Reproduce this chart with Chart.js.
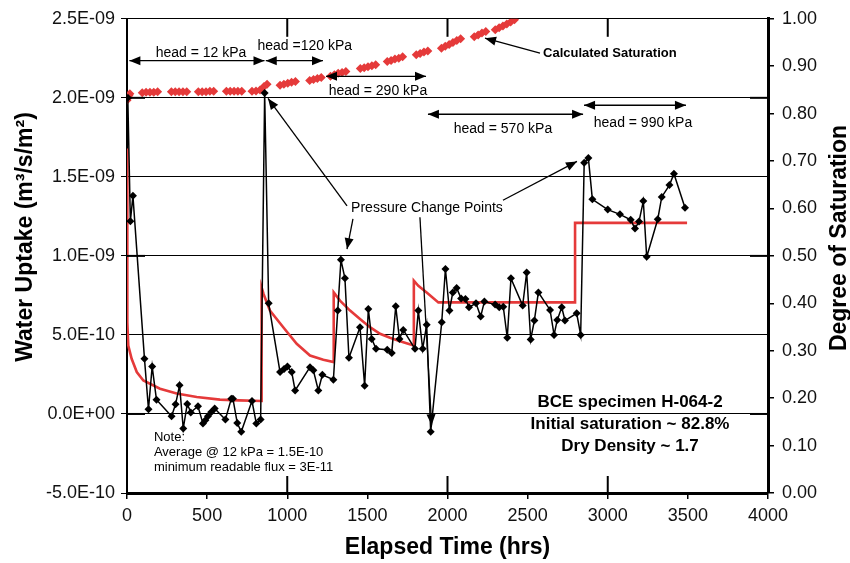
<!DOCTYPE html>
<html>
<head>
<meta charset="utf-8">
<script src="https://cdn.jsdelivr.net/npm/chart.js@4.4.1/dist/chart.umd.min.js"></script>
<style>
  html, body { margin: 0; padding: 0; background: #fff; }
</style>
</head>
<body>
<canvas id="grafico" width="850" height="563"></canvas>
<script>
//inicio - dados

// fluxo medido (m3/s/m2) - serie preta
const tempoFluxo = [5, 21, 37, 109, 134, 157, 184, 278, 303, 328, 351, 376, 398, 443, 474, 489, 505, 526, 547, 614,
    651, 661, 688, 713, 780, 807, 834, 859, 884, 955, 980, 1001, 1028, 1049, 1142, 1163, 1194, 1219, 1288, 1315,
    1335, 1360, 1385, 1454, 1483, 1506, 1527, 1554, 1624, 1652, 1677, 1700, 1724, 1797, 1818, 1845, 1870, 1895, 1964, 1987,
    2012, 2033, 2057, 2085, 2112, 2134, 2178, 2207, 2230, 2297, 2323, 2348, 2373, 2396, 2469, 2494, 2519, 2542, 2567, 2640,
    2665, 2685, 2713, 2733, 2806, 2831, 2853, 2879, 2904, 3000, 3076, 3143, 3170, 3195, 3222, 3243, 3312, 3337, 3385, 3413, 3482];
const fluxo = [2.00e-9, 1.22e-9, 1.38e-9, 3.5e-10, 3.0e-11, 3.0e-10, 9.0e-11, -1.5e-11, 6.1e-11, 1.81e-10, -9.2e-11, 6.3e-11, 1.0e-11, 4.9e-11, -6.1e-11, -4.0e-11, -1.5e-11, 1.3e-11, 3.4e-11, -3.5e-11,
    9.7e-11, 9.7e-11, -5.7e-11, -1.13e-10, 8.2e-11, -6.1e-11, -3.5e-11, 2.03e-9, 7.0e-10, 2.65e-10, 2.85e-10, 3.0e-10, 2.65e-10, 1.49e-10, 2.96e-10, 2.76e-10, 1.49e-10, 2.48e-10, 2.17e-10, 6.54e-10,
    9.75e-10, 8.58e-10, 3.55e-10, 5.49e-10, 1.79e-10, 6.64e-10, 4.75e-10, 4.12e-10, 4.06e-10, 3.85e-10, 6.81e-10, 4.75e-10, 5.32e-10, 4.12e-10, 6.54e-10, 4.12e-10, 5.64e-10, -1.13e-10, 5.80e-10, 9.17e-10,
    6.54e-10, 7.69e-10, 7.97e-10, 7.30e-10, 7.28e-10, 6.75e-10, 7.00e-10, 6.16e-10, 7.11e-10, 6.92e-10, 6.75e-10, 6.79e-10, 4.82e-10, 8.58e-10, 6.86e-10, 8.95e-10, 4.71e-10, 5.91e-10, 7.69e-10, 6.58e-10,
    5.00e-10, 5.95e-10, 6.75e-10, 5.91e-10, 6.37e-10, 5.00e-10, 1.59e-9, 1.62e-9, 1.358e-9, 1.293e-9, 1.263e-9, 1.228e-9, 1.173e-9, 1.217e-9, 1.347e-9, 9.94e-10, 1.232e-9, 1.373e-9, 1.448e-9, 1.52e-9, 1.305e-9];

// modelo (linha vermelha)
const tempoModelo = [0, 0, 4, 8, 29, 61, 102, 206, 310, 435, 580, 700, 840, 840, 852, 892, 975, 1059, 1142, 1225, 1290, 1290,
    1329, 1392, 1454, 1516, 1579, 1641, 1704, 1790, 1790, 1818, 1870, 1943, 2796, 2796, 3495];
const fluxoModelo = [1.68e-9, 5.8e-10, 5.8e-10, 4.33e-10, 3.49e-10, 2.65e-10, 2.12e-10, 1.6e-10, 1.29e-10, 1.07e-10, 9.1e-11, 8.6e-11, 8.2e-11, 8.0e-10, 7.59e-10, 6.54e-10, 5.49e-10, 4.44e-10, 3.7e-10, 3.43e-10, 3.28e-10, 7.69e-10,
    7.17e-10, 6.54e-10, 6.01e-10, 5.49e-10, 5.07e-10, 4.82e-10, 4.6e-10, 4.33e-10, 8.43e-10, 8.11e-10, 7.69e-10, 7.06e-10, 7.06e-10, 1.209e-9, 1.209e-9];

// saturacao calculada (eixo da direita)
const tempoSat = [0, 6, 12, 18, 95, 119, 143, 167, 191, 277, 301, 325, 349, 373, 445, 469, 493, 517, 541,
    620, 644, 668, 692, 716, 780, 805, 830, 855, 874, 955, 979, 1003, 1027, 1051, 1140, 1164, 1188, 1212,
    1270, 1294, 1318, 1342, 1366, 1456, 1480, 1504, 1528, 1552, 1624, 1648, 1672, 1696, 1720, 1805, 1829, 1853, 1877,
    1962, 1986, 2010, 2034, 2058, 2082, 2167, 2191, 2215, 2239, 2298, 2322, 2346, 2370, 2394, 2418];
const saturacao = [0.828, 0.833, 0.838, 0.842, 0.844, 0.845, 0.845, 0.845, 0.846, 0.846, 0.846, 0.846, 0.846, 0.846, 0.846, 0.846, 0.846, 0.847, 0.847,
    0.847, 0.847, 0.847, 0.847, 0.847, 0.847, 0.848, 0.850, 0.857, 0.862, 0.860, 0.862, 0.864, 0.866, 0.868, 0.870, 0.872, 0.874, 0.876,
    0.879, 0.882, 0.885, 0.887, 0.889, 0.895, 0.897, 0.899, 0.901, 0.903, 0.910, 0.912, 0.915, 0.917, 0.920, 0.924, 0.927, 0.930, 0.932,
    0.938, 0.942, 0.946, 0.950, 0.954, 0.958, 0.962, 0.966, 0.970, 0.973, 0.977, 0.981, 0.985, 0.989, 0.993, 0.998];

//fim - dados


//inicio - anotacoes (posicoes em unidades dos eixos: horas, m3/s/m2)

const faixasHead = [
    { texto: 'head = 12 kPa', t: 462, v: 2.283e-9, t1: 15, t2: 858, va: 2.235e-9 },
    { texto: 'head =120 kPa', t: 1109, v: 2.325e-9, t1: 866, t2: 1223, va: 2.235e-9 },
    { texto: 'head = 290 kPa', t: 1566, v: 2.041e-9, t1: 1242, t2: 1866, va: 2.136e-9 },
    { texto: 'head = 570 kPa', t: 2346, v: 1.802e-9, t1: 1878, t2: 2846, va: 1.896e-9 },
    { texto: 'head = 990 kPa', t: 3220, v: 1.840e-9, t1: 2852, t2: 3488, va: 1.953e-9 }
];

const setasPressao = [
    [1373, 1.316e-9, 880, 1.996e-9],
    [1410, 1.234e-9, 1373, 1.043e-9],
    [1828, 1.245e-9, 1901, -0.071e-9],
    [2346, 1.352e-9, 2808, 1.598e-9]
];

//fim - anotacoes


function formatoExp(v) {
    return v.toExponential(1).toUpperCase().replace(/E([+-])(\d)$/, 'E$10$2');
}

function linha(ctx, x1, y1, x2, y2) {
    ctx.beginPath();
    ctx.moveTo(x1, y1);
    ctx.lineTo(x2, y2);
    ctx.stroke();
}

function ponta(ctx, x1, y1, x2, y2) {
    const ang = Math.atan2(y2 - y1, x2 - x1);
    const L = 11, W = 4.5;
    ctx.beginPath();
    ctx.moveTo(x2, y2);
    ctx.lineTo(x2 - L * Math.cos(ang) + W * Math.sin(ang), y2 - L * Math.sin(ang) - W * Math.cos(ang));
    ctx.lineTo(x2 - L * Math.cos(ang) - W * Math.sin(ang), y2 - L * Math.sin(ang) + W * Math.cos(ang));
    ctx.closePath();
    ctx.fill();
}

function seta(ctx, x1, y1, x2, y2, dupla) {
    linha(ctx, x1, y1, x2, y2);
    ponta(ctx, x1, y1, x2, y2);
    if (dupla) ponta(ctx, x2, y2, x1, y1);
}

const fonte = "'Liberation Sans', Arial, Helvetica, sans-serif";

const pluginAnotacoes = {
    id: 'anotacoes',
    afterDatasetsDraw(chart) {
        const { ctx, chartArea: a, scales: { x, y } } = chart;
        const px = t => x.getPixelForValue(t);
        const py = v => y.getPixelForValue(v);

        ctx.save();
        ctx.strokeStyle = '#000';
        ctx.fillStyle = '#000';

        // ticks internos
        ctx.lineWidth = 2;
        [1000, 2000, 3000].forEach(t => {
            linha(ctx, px(t), a.bottom, px(t), a.bottom - 17);
            linha(ctx, px(t), a.top, px(t), a.top + 18);
        });
        [0, 1e-9, 2e-9].forEach(v => {
            linha(ctx, a.left, py(v), a.left + 18, py(v));
            linha(ctx, a.right - 18, py(v), a.right, py(v));
        });

        // faixas de head
        ctx.lineWidth = 1.3;
        ctx.font = '14px ' + fonte;
        ctx.textAlign = 'center';
        ctx.textBaseline = 'middle';
        faixasHead.forEach(f => {
            seta(ctx, px(f.t1), py(f.va), px(f.t2), py(f.va), true);
            ctx.fillText(f.texto, px(f.t), py(f.v));
        });

        // pressure change points
        ctx.fillText('Pressure Change Points', px(1872), py(1.301e-9));
        setasPressao.forEach(s => seta(ctx, px(s[0]), py(s[1]), px(s[2]), py(s[3]), false));

        // saturacao calculada
        seta(ctx, px(2577), py(2.283e-9), px(2234), py(2.377e-9), false);
        ctx.font = 'bold 13px ' + fonte;
        ctx.textAlign = 'left';
        ctx.fillText('Calculated Saturation', px(2596), py(2.281e-9));

        // nota
        ctx.font = '13px ' + fonte;
        ctx.fillText('Note:', px(168), py(-0.151e-9));
        ctx.fillText('Average @ 12 kPa = 1.5E-10', px(168), py(-0.246e-9));
        ctx.fillText('minimum readable flux = 3E-11', px(168), py(-0.340e-9));

        // amostra
        ctx.font = 'bold 17px ' + fonte;
        ctx.textAlign = 'center';
        ctx.fillText('BCE specimen H-064-2', px(3139), py(0.0757e-9));
        ctx.fillText('Initial saturation ~ 82.8%', px(3139), py(-0.0668e-9));
        ctx.fillText('Dry Density ~ 1.7', px(3139), py(-0.2037e-9));

        // titulos dos eixos
        ctx.font = 'bold 23px ' + fonte;
        ctx.fillText('Elapsed Time (hrs)', (a.left + a.right) / 2, 548);
        ctx.save();
        ctx.translate(26, 237);
        ctx.rotate(-Math.PI / 2);
        ctx.fillText('Water Uptake (m\u00b3/s/m\u00b2)', 0, 0);
        ctx.restore();
        ctx.save();
        ctx.translate(840, 238);
        ctx.rotate(-Math.PI / 2);
        ctx.fillText('Degree of Saturation', 0, 0);
        ctx.restore();

        ctx.restore();
    }
};

Chart.defaults.font.family = fonte;
Chart.defaults.font.size = 18;
Chart.defaults.color = '#111';

const ctx1 = document.getElementById('grafico');

new Chart(ctx1, {
    type: 'line',
    data: {
        datasets: [{
            label: 'Water uptake',
            data: tempoFluxo.map((t, i) => ({ x: t, y: fluxo[i] })),
            yAxisID: 'y',
            borderColor: '#000',
            borderWidth: 1.5,
            pointStyle: 'rectRot',
            pointRadius: 4,
            pointBackgroundColor: '#000',
            pointBorderWidth: 0,
            tension: 0
        }, {
            label: 'Model',
            data: tempoModelo.map((t, i) => ({ x: t, y: fluxoModelo[i] })),
            yAxisID: 'y',
            borderColor: '#e53a3a',
            borderWidth: 2.6,
            pointRadius: 0,
            tension: 0
        }, {
            label: 'Calculated Saturation',
            data: tempoSat.map((t, i) => ({ x: t, y: saturacao[i] })),
            yAxisID: 'y2',
            showLine: false,
            pointStyle: 'rectRot',
            pointRadius: 4.5,
            pointBackgroundColor: '#e53a3a',
            pointBorderWidth: 0
        }]
    },
    options: {
        responsive: false,
        animation: false,
        layout: { padding: { top: 17, left: 0, right: 0, bottom: 0 } },
        plugins: {
            legend: { display: false },
            tooltip: { enabled: false }
        },
        scales: {
            x: {
                type: 'linear',
                min: 0,
                max: 4000,
                afterFit: s => { s.height = 70; },
                ticks: { stepSize: 500, padding: 6, color: '#111', callback: v => String(v) },
                grid: { drawOnChartArea: false, tickLength: 6, color: '#000', lineWidth: 1.5 },
                border: { color: '#000', width: 3 }
            },
            y: {
                position: 'left',
                min: -5e-10,
                max: 2.5e-9,
                afterFit: s => { s.width = 127; },
                ticks: { stepSize: 5e-10, padding: 6, color: '#111', callback: v => formatoExp(v) },
                grid: { color: '#000', lineWidth: 1, tickLength: 6 },
                border: { color: '#000', width: 2 }
            },
            y2: {
                position: 'right',
                min: 0,
                max: 1,
                afterFit: s => { s.width = 82; },
                ticks: { stepSize: 0.1, padding: 8, color: '#111', callback: v => v.toFixed(2) },
                grid: { drawOnChartArea: false, tickLength: 6, color: '#000', lineWidth: 1.5 },
                border: { color: '#000', width: 3 }
            }
        }
    },
    plugins: [pluginAnotacoes]
});
</script>
</body>
</html>
